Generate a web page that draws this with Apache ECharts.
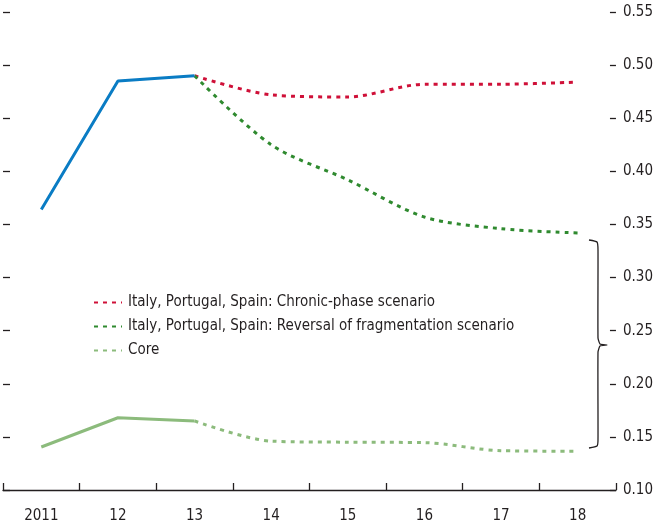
<!DOCTYPE html>
<html>
<head>
<meta charset="utf-8">
<script src="https://cdn.jsdelivr.net/npm/echarts@6/dist/echarts.min.js"></script>
<style>
  html, body { margin: 0; padding: 0; background: #fff; }
  #chart { width: 656px; height: 524px; }
</style>
</head>
<body>
<div id="chart"></div>
<script>
// categories on the x axis
const years = ['2011', '12', '13', '14', '15', '16', '17', '18'];

// Italy, Portugal, Spain - actual
const ipsActual = [0.364, 0.485, 0.490, null, null, null, null, null];
// scenarios
const chronicPhase = [null, null, 0.490, 0.472, 0.470, 0.482, 0.482, 0.484];
const reversalFrag = [null, null, 0.490, 0.425, 0.392, 0.357, 0.346, 0.342];
// core countries
const coreActual = [0.1405, 0.168, 0.165, null, null, null, null, null];
const coreProjection = [null, null, 0.165, 0.146, 0.145, 0.1446, 0.137, 0.1365];

const fontFamily = '"Liberation Sans Narrow", "DejaVu Sans Condensed", sans-serif';
const textColor = '#231f20';

const chart = echarts.init(document.getElementById('chart'), null, { renderer: 'canvas' });

const dotted = (color) => ({ color: color, width: 3, type: [4, 5], cap: 'butt' });

const option = {
  animation: false,
  backgroundColor: '#fff',
  textStyle: { fontFamily: fontFamily, color: textColor },
  grid: { left: 3, right: 39, top: 12, bottom: 34 },
  legend: {
    left: 88,
    top: 290,
    orient: 'vertical',
    itemGap: 9,
    itemWidth: 28,
    itemHeight: 14,
    itemStyle: { opacity: 0 },
    data: [
      'Italy, Portugal, Spain: Chronic-phase scenario',
      'Italy, Portugal, Spain: Reversal of fragmentation scenario',
      'Core'
    ],
    textStyle: { fontFamily: fontFamily, fontSize: 15, color: textColor, padding: [0, 0, 0, 1] }
  },
  xAxis: {
    type: 'category',
    data: years,
    boundaryGap: true,
    axisLine: { lineStyle: { color: '#231f20', width: 1.3 } },
    axisTick: { show: true, alignWithLabel: false, interval: 0, inside: true, length: 7, lineStyle: { color: '#231f20', width: 1.3 } },
    axisLabel: { fontFamily: fontFamily, fontSize: 15, color: textColor, margin: 19 }
  },
  yAxis: [
    {
      type: 'value',
      position: 'right',
      min: 0.10,
      max: 0.55,
      interval: 0.05,
      axisLine: { show: false },
      axisTick: { show: true, inside: true, length: 6, lineStyle: { color: '#231f20', width: 1.3 } },
      axisLabel: {
        fontFamily: fontFamily, fontSize: 15, color: textColor, margin: 7,
        formatter: (v) => v.toFixed(2)
      },
      splitLine: { show: false }
    },
    {
      type: 'value',
      position: 'left',
      min: 0.10,
      max: 0.55,
      interval: 0.05,
      axisLine: { show: false },
      axisTick: { show: true, inside: true, length: 7, lineStyle: { color: '#231f20', width: 1.3 } },
      axisLabel: { show: false },
      splitLine: { show: false }
    }
  ],
  series: [
    {
      name: 'Italy, Portugal, Spain',
      type: 'line',
      data: ipsActual,
      symbol: 'none',
      lineStyle: { color: '#0a7cc4', width: 3 },
      itemStyle: { color: '#0a7cc4' },
      z: 5
    },
    {
      name: 'Italy, Portugal, Spain: Chronic-phase scenario',
      type: 'line',
      data: chronicPhase,
      symbol: 'none',
      smooth: 0.3,
      lineStyle: dotted('#cf1038'),
      itemStyle: { color: '#cf1038' }
    },
    {
      name: 'Italy, Portugal, Spain: Reversal of fragmentation scenario',
      type: 'line',
      data: reversalFrag,
      symbol: 'none',
      smooth: 0.3,
      lineStyle: dotted('#2f8a2f'),
      itemStyle: { color: '#2f8a2f' }
    },
    {
      name: 'Core actual',
      type: 'line',
      data: coreActual,
      symbol: 'none',
      lineStyle: { color: '#8cbb7c', width: 3 },
      itemStyle: { color: '#8cbb7c' }
    },
    {
      name: 'Core',
      type: 'line',
      data: coreProjection,
      symbol: 'none',
      smooth: 0.3,
      lineStyle: dotted('#8cbb7c'),
      itemStyle: { color: '#8cbb7c' }
    }
  ],
  graphic: [
    {
      // curly bracket grouping the IPS scenarios vs core
      type: 'polyline',
      shape: {
        points: [[589, 240], [597, 242], [598, 250], [598, 338], [600, 344], [607, 345],
                 [600, 346], [598, 352], [598, 440], [597, 446], [589, 448]],
        smooth: 0.15
      },
      style: { stroke: '#231f20', lineWidth: 1.3, fill: null }
    }
  ]
};

chart.setOption(option);
</script>
</body>
</html>
